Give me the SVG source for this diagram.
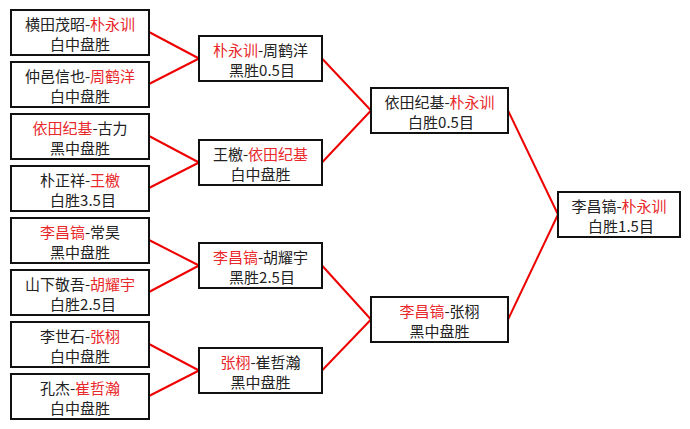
<svg xmlns="http://www.w3.org/2000/svg" width="690" height="429" viewBox="0 0 690 429">
<style>
.box{fill:#fff;stroke:#111;stroke-width:2}
text{font-family:"Noto Sans CJK SC","Noto Sans CJK JP",sans-serif;font-size:15px;fill:#222;text-anchor:middle}
.r{fill:#e8282a}
.c line{stroke:#ee0000;stroke-width:2}
</style>
<rect width="690" height="429" fill="#fff"/>
<g class="c" id="connectors">
<line x1="149" y1="32" x2="199" y2="58.5"/>
<line x1="149" y1="84" x2="199" y2="58.5"/>
<line x1="149" y1="136" x2="199" y2="162.5"/>
<line x1="149" y1="188" x2="199" y2="162.5"/>
<line x1="149" y1="240" x2="199" y2="265.5"/>
<line x1="149" y1="292" x2="199" y2="265.5"/>
<line x1="149" y1="344" x2="199" y2="370.5"/>
<line x1="149" y1="396" x2="199" y2="370.5"/>
<line x1="322" y1="58.5" x2="371" y2="110.5"/>
<line x1="322" y1="162.5" x2="371" y2="110.5"/>
<line x1="322" y1="265.5" x2="371" y2="319.5"/>
<line x1="322" y1="370.5" x2="371" y2="319.5"/>
<line x1="508" y1="110.5" x2="558" y2="214.5"/>
<line x1="508" y1="319.5" x2="558" y2="214.5"/>
</g>
<g id="r1a"><rect class="box" x="11" y="10" width="138" height="45"/><text x="80" y="30">横田茂昭-<tspan class="r">朴永训</tspan></text><text x="80" y="50">白中盘胜</text></g>
<g id="r1b"><rect class="box" x="11" y="62" width="138" height="45"/><text x="80" y="82">仲邑信也-<tspan class="r">周鹤洋</tspan></text><text x="80" y="102">白中盘胜</text></g>
<g id="r1c"><rect class="box" x="11" y="114" width="138" height="45"/><text x="80" y="134"><tspan class="r">依田纪基</tspan>-古力</text><text x="80" y="154">黑中盘胜</text></g>
<g id="r1d"><rect class="box" x="11" y="166" width="138" height="45"/><text x="80" y="186">朴正祥-<tspan class="r">王檄</tspan></text><text x="83" y="206">白胜3.5目</text></g>
<g id="r1e"><rect class="box" x="11" y="218" width="138" height="45"/><text x="80" y="238"><tspan class="r">李昌镐</tspan>-常昊</text><text x="80" y="258">黑中盘胜</text></g>
<g id="r1f"><rect class="box" x="11" y="270" width="138" height="45"/><text x="80" y="290">山下敬吾-<tspan class="r">胡耀宇</tspan></text><text x="83" y="310">白胜2.5目</text></g>
<g id="r1g"><rect class="box" x="11" y="322" width="138" height="45"/><text x="80" y="342">李世石-<tspan class="r">张栩</tspan></text><text x="80" y="362">白中盘胜</text></g>
<g id="r1h"><rect class="box" x="11" y="374" width="138" height="45"/><text x="80" y="394">孔杰-<tspan class="r">崔哲瀚</tspan></text><text x="80" y="414">白中盘胜</text></g>
<g id="r2a"><rect class="box" x="199" y="36" width="123" height="45"/><text x="260.5" y="56"><tspan class="r">朴永训</tspan>-周鹤洋</text><text x="262" y="76">黑胜0.5目</text></g>
<g id="r2b"><rect class="box" x="199" y="140" width="123" height="45"/><text x="260.5" y="160">王檄-<tspan class="r">依田纪基</tspan></text><text x="260.5" y="180">白中盘胜</text></g>
<g id="r2c"><rect class="box" x="199" y="243" width="123" height="45"/><text x="260.5" y="263"><tspan class="r">李昌镐</tspan>-胡耀宇</text><text x="262" y="283">黑胜2.5目</text></g>
<g id="r2d"><rect class="box" x="199" y="348" width="123" height="45"/><text x="260.5" y="368"><tspan class="r">张栩</tspan>-崔哲瀚</text><text x="260.5" y="388">黑中盘胜</text></g>
<g id="r3a"><rect class="box" x="371" y="88" width="137" height="45"/><text x="439.5" y="108">依田纪基-<tspan class="r">朴永训</tspan></text><text x="441" y="128">白胜0.5目</text></g>
<g id="r3b"><rect class="box" x="371" y="297" width="137" height="45"/><text x="439.5" y="317"><tspan class="r">李昌镐</tspan>-张栩</text><text x="439.5" y="337">黑中盘胜</text></g>
<g id="final"><rect class="box" x="558" y="192" width="122" height="45"/><text x="619" y="212">李昌镐-<tspan class="r">朴永训</tspan></text><text x="621" y="232">白胜1.5目</text></g>
</svg>
